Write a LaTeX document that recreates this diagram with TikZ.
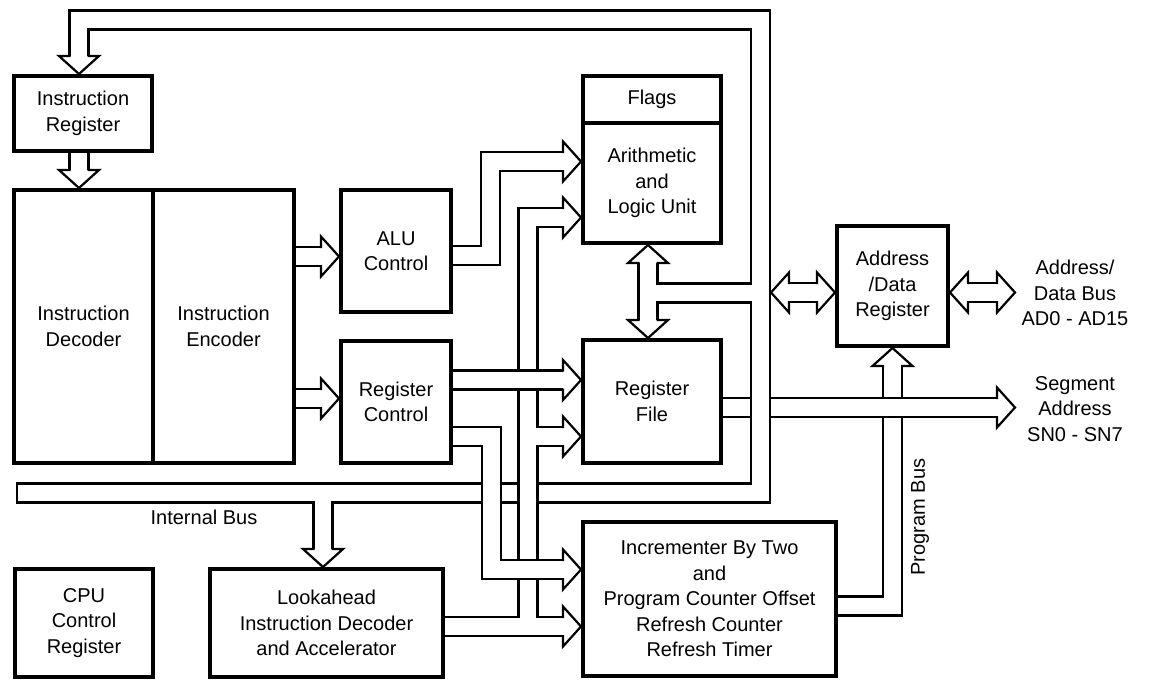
\documentclass[tikz,border=0pt]{standalone}
\usepackage{fontspec}
\setmainfont{Liberation Sans}

\tikzset{
  blk/.style={draw, line width=4pt, align=center, inner sep=0pt, font=\fontsize{20}{25.5}\selectfont},
  lbl/.style={align=center, inner sep=0pt, font=\fontsize{20}{25.5}\selectfont},
  busout/.style={line width=21.2pt, line join=miter},
  busin/.style={white, line width=16.8pt, line join=miter},
  bhead/.pic={\filldraw[fill=white, line width=2.2pt, line join=miter] (-18,-8.5) -- (-18,-20) -- (0,0) -- (-18,20) -- (-18,8.5);}
}

\begin{document}
\begin{tikzpicture}[x=1pt, y=-1pt]
  \useasboundingbox[fill=white] (0,0) rectangle (1149,680);

  % Blocks
  \node[blk, minimum width=138pt, minimum height=75pt] (ir) at (83,113.5) {Instruction\\Register};
  \node[blk, minimum width=139pt, minimum height=273pt] (dec) at (83.5,326.5) {Instruction\\Decoder};
  \node[blk, minimum width=141pt, minimum height=273pt] (enc) at (223.5,326.5) {Instruction\\Encoder};
  \node[blk, minimum width=110pt, minimum height=122pt] (actl) at (396,251) {ALU\\Control};
  \node[blk, minimum width=110pt, minimum height=122pt] (rctl) at (396,402) {Register\\Control};
  \node[blk, minimum width=138pt, minimum height=47pt] (flags) at (652,99.5) {Flags};
  \node[blk, minimum width=138pt, minimum height=120pt] (alu) at (652,183) {Arithmetic\\and\\Logic Unit};
  \node[blk, minimum width=138pt, minimum height=123pt] (rf) at (652,401.5) {Register\\File};
  \node[blk, minimum width=111pt, minimum height=120pt] (adr) at (892.5,286) {Address\\/Data\\Register};
  \node[blk, minimum width=253pt, minimum height=154pt] (inc) at (709.5,599) {Incrementer By Two\\and\\Program Counter Offset\\Refresh Counter\\Refresh Timer};
  \node[blk, minimum width=233pt, minimum height=108pt] (look) at (326.5,623) {Lookahead\\Instruction Decoder\\and Accelerator};
  \node[blk, minimum width=138pt, minimum height=108pt] (cpu) at (84,623) {CPU\\Control\\Register};

  % Labels
  \node[lbl] (adbus) at (1075,293) {Address/\\Data Bus\\AD0 - AD15};
  \node[lbl] (segadr) at (1075,409) {Segment\\Address\\SN0 - SN7};
  \node[lbl] (ibus) at (204,517) {Internal Bus};
  \node[lbl, rotate=90] (pbus) at (920,517) {Program Bus};

  \coordinate (segtip) at (1015,407.5);
  \coordinate (bustip) at (771,292.5);
  \coordinate (adtip) at (1015,292.5);

  % Program bus
  \foreach \lay in {busout,busin}{
    \draw[\lay] (inc.east |- 0,606) -| (892.5,366);
  }
  \pic[rotate=90] at (adr.south -| 892.5,0) {bhead};

  % Segment address
  \foreach \lay in {busout,busin}{
    \draw[\lay] (rf.east |- 0,407.5) -- (997,407.5);
  }
  \pic at (segtip) {bhead};

  % Main ring and internal bus
  \foreach \lay in {busout,busin}{
    \draw[\lay] (79,56) |- (760.5,20) |- (16,493);
    \draw[\lay] (760.5,293) -- (648,293);
    \draw[\lay] (648,263) -- (648,320);
    \draw[\lay] (323,493) -- (323,549);
  }
  \draw[line width=2.2pt] (17.1,483.5) -- (17.1,502.5);
  \pic[rotate=-90] at (ir.north -| 79,0) {bhead};
  \pic[rotate=90] at (alu.south -| 648,0) {bhead};
  \pic[rotate=-90] at (rf.north -| 648,0) {bhead};
  \pic[rotate=-90] at (look.north -| 323,0) {bhead};

  % Lookahead outputs
  \foreach \lay in {busout,busin}{
    \draw[\lay] (look.east |- 0,626.5) -- (563,626.5);
    \draw[\lay] (528,626.5) |- (563,217.5);
    \draw[\lay] (528,436.5) -- (563,436.5);
  }
  \pic at (inc.west |- 0,626.5) {bhead};
  \pic at (alu.west |- 0,217.5) {bhead};
  \pic at (rf.west |- 0,436.5) {bhead};

  % Register control outputs
  \foreach \lay in {busout,busin}{
    \draw[\lay] (rctl.east |- 0,436.5) -| (491.5,569.5) -- (563,569.5);
    \draw[\lay] (rctl.east |- 0,380) -- (563,380);
  }
  \pic at (inc.west |- 0,569.5) {bhead};
  \pic at (rf.west |- 0,380) {bhead};

  % ALU control output
  \foreach \lay in {busout,busin}{
    \draw[\lay] (actl.east |- 0,255.5) -| (490.5,161.5) -- (563,161.5);
  }
  \pic at (alu.west |- 0,161.5) {bhead};

  % Encoder and register arrows
  \foreach \lay in {busout,busin}{
    \draw[\lay] (enc.east |- 0,256.5) -- (321,256.5);
    \draw[\lay] (enc.east |- 0,398.5) -- (321,398.5);
    \draw[\lay] (ir.south -| 79,0) -- (79,170);
  }
  \pic at (actl.west |- 0,256.5) {bhead};
  \pic at (rctl.west |- 0,398.5) {bhead};
  \pic[rotate=-90] at (dec.north -| 79,0) {bhead};

  % Address/data register both ways
  \foreach \lay in {busout,busin}{
    \draw[\lay] (789,292.5) -- (817,292.5);
    \draw[\lay] (968,292.5) -- (997,292.5);
  }
  \pic[rotate=180] at (bustip) {bhead};
  \pic at (adr.west |- 0,292.5) {bhead};
  \pic[rotate=180] at (adr.east |- 0,292.5) {bhead};
  \pic at (adtip) {bhead};
\end{tikzpicture}
\end{document}
